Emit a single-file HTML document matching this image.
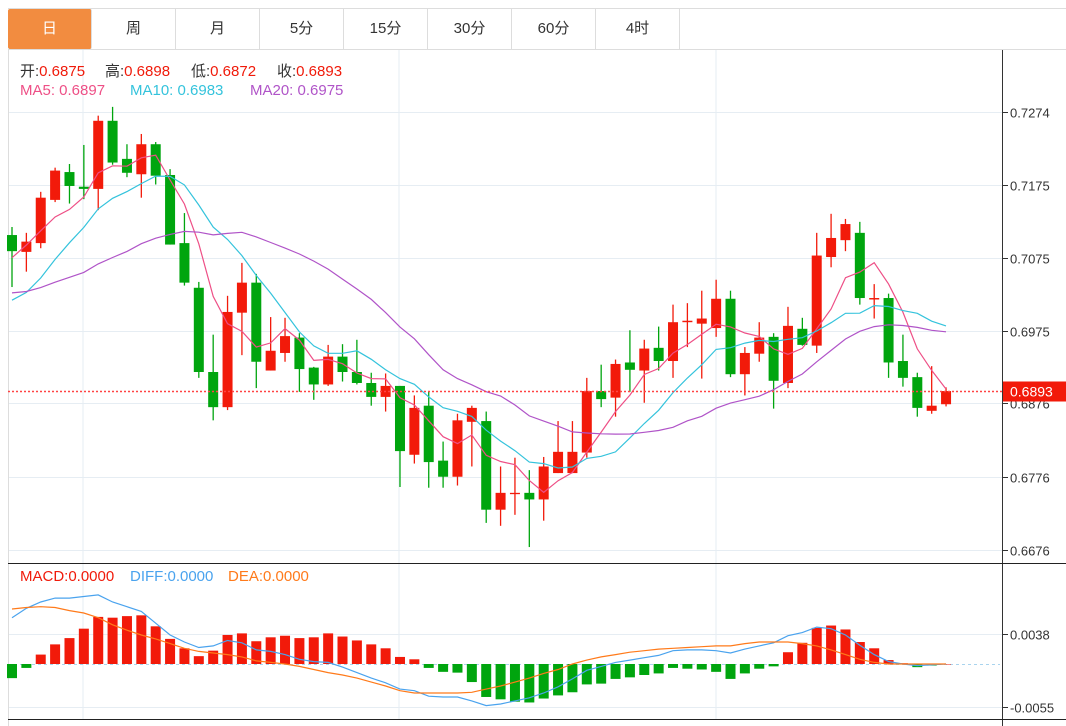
<!DOCTYPE html>
<html><head><meta charset="utf-8"><style>
html,body{margin:0;padding:0;background:#fff;width:1066px;height:726px;overflow:hidden;font-family:"Liberation Sans","Noto Sans CJK SC",sans-serif;}
.tabs{position:absolute;left:8px;top:8px;height:40px;width:1058px;border-top:1px solid #ddd;border-bottom:1px solid #ddd;}
.tab{position:absolute;top:0;height:40px;width:83px;border-right:1px solid #ddd;text-align:center;line-height:40px;font-size:15px;color:#333;}
.tab.active{background:#f28c40;color:#fff;border-radius:2px;}
.lg{position:absolute;font-size:15px;white-space:nowrap;}
#chart{position:absolute;left:0;top:0;}
</style></head><body>
<div class="tabs">
<div class="tab active" style="left:0">日</div>
<div class="tab" style="left:84px">周</div>
<div class="tab" style="left:168px">月</div>
<div class="tab" style="left:252px">5分</div>
<div class="tab" style="left:336px">15分</div>
<div class="tab" style="left:420px">30分</div>
<div class="tab" style="left:504px">60分</div>
<div class="tab" style="left:588px">4时</div>
</div>
<svg id="chart" width="1066" height="726"></svg>
<div>
<div class="lg" style="left:20px;top:60px"><span style="color:#333">开:</span><span style="color:#f01a0a">0.6875</span></div>
<div class="lg" style="left:105px;top:60px"><span style="color:#333">高:</span><span style="color:#f01a0a">0.6898</span></div>
<div class="lg" style="left:191px;top:60px"><span style="color:#333">低:</span><span style="color:#f01a0a">0.6872</span></div>
<div class="lg" style="left:277px;top:60px"><span style="color:#333">收:</span><span style="color:#f01a0a">0.6893</span></div>
</div>
<div>
<div class="lg" style="left:20px;top:82px;color:#ee4f86">MA5: 0.6897</div>
<div class="lg" style="left:130px;top:82px;color:#34c3dc">MA10: 0.6983</div>
<div class="lg" style="left:250px;top:82px;color:#b054c8">MA20: 0.6975</div>
</div>
<div>
<div class="lg" style="left:20px;top:568px;color:#f01a0a">MACD:0.0000</div>
<div class="lg" style="left:130px;top:568px;color:#4aa3ee">DIFF:0.0000</div>
<div class="lg" style="left:228px;top:568px;color:#ff7a1a">DEA:0.0000</div>
</div>
<script>
const priorCloses=[0.7060,0.7050,0.7045,0.7040,0.7035,0.7030,0.7030,0.7025,0.7020,0.7035,0.6990,0.6960,0.6940,0.6945,0.6960,0.7010,0.7060,0.7100,0.7121];
const opens=[0.7106,0.7083,0.7095,0.7154,0.7192,0.7172,0.7169,0.7262,0.7210,0.7189,0.7230,0.7188,0.7095,0.7034,0.6919,0.6871,0.7000,0.7041,0.6921,0.6945,0.6966,0.6925,0.6902,0.6940,0.6919,0.6904,0.6885,0.6900,0.6806,0.6873,0.6798,0.6776,0.6851,0.6852,0.6731,0.6753,0.6754,0.6745,0.6781,0.6781,0.6809,0.6893,0.6884,0.6932,0.6921,0.6952,0.6934,0.6987,0.6985,0.6979,0.7019,0.6916,0.6944,0.6967,0.6904,0.6978,0.6955,0.7076,0.7099,0.7109,0.7018,0.7020,0.6934,0.6912,0.6866,0.6875];
const closes=[0.7084,0.7097,0.7157,0.7194,0.7173,0.7169,0.7262,0.7205,0.7191,0.7230,0.7187,0.7093,0.7041,0.6919,0.6871,0.7001,0.7041,0.6933,0.6948,0.6968,0.6923,0.6902,0.6940,0.6919,0.6904,0.6885,0.6900,0.6811,0.6870,0.6796,0.6776,0.6853,0.6870,0.6731,0.6754,0.6754,0.6745,0.6790,0.6810,0.6810,0.6893,0.6882,0.6930,0.6922,0.6951,0.6934,0.6987,0.6989,0.6992,0.7019,0.6916,0.6945,0.6966,0.6907,0.6982,0.6956,0.7078,0.7102,0.7121,0.7020,0.7020,0.6932,0.6911,0.6870,0.6873,0.6893];
const highs=[0.7117,0.7109,0.7165,0.7198,0.7203,0.7229,0.7269,0.7281,0.7230,0.7244,0.7233,0.7196,0.7136,0.7042,0.6970,0.7023,0.7068,0.7053,0.6994,0.6993,0.6972,0.6926,0.6956,0.6957,0.6963,0.6918,0.6917,0.6900,0.6887,0.6892,0.6824,0.6862,0.6873,0.6865,0.6790,0.6802,0.6785,0.6803,0.6852,0.6852,0.6911,0.6929,0.6936,0.6976,0.6963,0.6981,0.7011,0.7013,0.7030,0.7045,0.7030,0.6953,0.6987,0.6972,0.7008,0.6993,0.7109,0.7135,0.7128,0.7124,0.7039,0.7026,0.6970,0.6918,0.6927,0.6898];
const lows=[0.7035,0.7056,0.7088,0.7151,0.7149,0.7155,0.7140,0.7202,0.7185,0.7157,0.7175,0.7093,0.7037,0.6911,0.6853,0.6867,0.6942,0.6897,0.6921,0.6933,0.6892,0.6881,0.6900,0.6906,0.6902,0.6873,0.6865,0.6762,0.6794,0.6761,0.6761,0.6764,0.6790,0.6713,0.6709,0.6724,0.6680,0.6716,0.6781,0.6781,0.6802,0.6871,0.6858,0.6892,0.6877,0.6921,0.6911,0.6953,0.6910,0.6967,0.6912,0.6887,0.6933,0.6869,0.6897,0.6955,0.6945,0.7062,0.7084,0.7011,0.6992,0.6911,0.6899,0.6858,0.6862,0.6872];
const macdBars=[-0.0018,-0.0005,0.0012,0.0025,0.0033,0.0045,0.0060,0.0059,0.0061,0.0062,0.0048,0.0032,0.0020,0.0010,0.0017,0.0037,0.0039,0.0029,0.0034,0.0036,0.0033,0.0034,0.0039,0.0035,0.0030,0.0025,0.0020,0.0009,0.0006,-0.0005,-0.0010,-0.0011,-0.0023,-0.0042,-0.0045,-0.0048,-0.0049,-0.0044,-0.0040,-0.0036,-0.0026,-0.0025,-0.0019,-0.0017,-0.0014,-0.0012,-0.0005,-0.0006,-0.0007,-0.0010,-0.0019,-0.0012,-0.0006,-0.0003,0.0015,0.0027,0.0046,0.0049,0.0044,0.0028,0.0020,0.0005,0.0001,-0.0004,-0.0002,0.0000];
const diffs=[0.0059,0.0071,0.0079,0.0084,0.0084,0.0086,0.0088,0.0079,0.0073,0.0067,0.0052,0.0037,0.0028,0.0021,0.0023,0.0030,0.0027,0.0018,0.0016,0.0012,0.0006,0.0003,0.0002,-0.0004,-0.0011,-0.0018,-0.0024,-0.0032,-0.0034,-0.0041,-0.0042,-0.0042,-0.0047,-0.0053,-0.0051,-0.0047,-0.0043,-0.0037,-0.0029,-0.0019,-0.0008,-0.0003,0.0002,0.0005,0.0008,0.0011,0.0017,0.0018,0.0018,0.0017,0.0014,0.0019,0.0023,0.0027,0.0036,0.0040,0.0047,0.0045,0.0037,0.0024,0.0012,0.0003,0.0000,-0.0002,-0.0001,0.0000];
const deas=[0.0070,0.0072,0.0073,0.0072,0.0068,0.0065,0.0059,0.0050,0.0043,0.0037,0.0032,0.0026,0.0020,0.0016,0.0014,0.0012,0.0009,0.0004,0.0002,0.0000,-0.0003,-0.0007,-0.0011,-0.0014,-0.0018,-0.0023,-0.0028,-0.0034,-0.0037,-0.0037,-0.0037,-0.0037,-0.0036,-0.0032,-0.0028,-0.0023,-0.0018,-0.0012,-0.0007,0.0000,0.0005,0.0009,0.0012,0.0015,0.0017,0.0019,0.0020,0.0021,0.0022,0.0023,0.0023,0.0026,0.0028,0.0028,0.0028,0.0026,0.0023,0.0018,0.0012,0.0006,0.0002,0.0000,0.0000,0.0000,0.0000,0.0000];
const priceTicks=[0.7274,0.7175,0.7075,0.6975,0.6876,0.6776,0.6676];
const macdTicks=[0.0038,-0.0055];
const lastPrice=0.6893;

const NS='http://www.w3.org/2000/svg';
const svg=document.getElementById('chart');
const RED='#f21a0a',GREEN='#00a50e';
function xOf(i){return 12+i*14.37;}
function yP(p){return 112+(0.7274-p)*7324;}
function yM(v){return 664-v*7850;}
function mk(tag,attrs,parent){const e=document.createElementNS(NS,tag);for(const k in attrs)e.setAttribute(k,attrs[k]);(parent||svg).appendChild(e);return e;}

const grid=mk('g',{});


[83,399,716].forEach(x=>mk('line',{x1:x,y1:50,x2:x,y2:719,stroke:'#e6edf3','stroke-width':1},grid));
priceTicks.forEach(t=>{const y=Math.round(yP(t))+0.5;mk('line',{x1:8,y1:y,x2:1002,y2:y,stroke:'#e6edf3'},grid);
 mk('line',{x1:1003,y1:y,x2:1008,y2:y,stroke:'#333'},grid);
 const tx=mk('text',{x:1010,y:y+5,'font-size':13,fill:'#333','font-family':'Liberation Sans, sans-serif'},grid);tx.textContent=t.toFixed(4);
 
 });
macdTicks.forEach(t=>{const y=Math.round(yM(t))+0.5;mk('line',{x1:8,y1:y,x2:1002,y2:y,stroke:'#e6edf3'},grid);
 mk('line',{x1:1003,y1:y,x2:1008,y2:y,stroke:'#333'},grid);
 const tx=mk('text',{x:1010,y:y+5,'font-size':13,fill:'#333','font-family':'Liberation Sans, sans-serif'},grid);tx.textContent=t.toFixed(4);
 
 });
mk('line',{x1:8.5,y1:48,x2:8.5,y2:726,stroke:'#ddd'},grid);
mk('line',{x1:1002.5,y1:50,x2:1002.5,y2:726,stroke:'#333'},grid);
mk('line',{x1:8,y1:563.5,x2:1066,y2:563.5,stroke:'#222'},grid);
mk('line',{x1:8,y1:719.5,x2:1066,y2:719.5,stroke:'#222'},grid);
mk('line',{x1:8,y1:664.5,x2:1000,y2:664.5,stroke:'#a9d4ee','stroke-dasharray':'3,3'},grid);

const cg=mk('g',{});


for(let i=0;i<closes.length;i++){
 const up=closes[i]>=opens[i];const col=up?RED:GREEN;const x=xOf(i);
 const g=mk('g',{},cg);
 
 
 mk('line',{x1:x,y1:yP(highs[i]),x2:x,y2:yP(lows[i]),stroke:col,'stroke-width':1.3},g);
 const t=yP(Math.max(opens[i],closes[i])),b=yP(Math.min(opens[i],closes[i]));
 mk('rect',{x:x-5,y:t,width:10,height:Math.max(1.3,b-t),fill:col},g);
}
const all=priorCloses.concat(closes);
function ma(n){const r=[];for(let i=0;i<closes.length;i++){const j=i+priorCloses.length;let s=0;for(let k=j-n+1;k<=j;k++)s+=all[k];r.push(s/n);}return r;}
[[5,'#ee4f86','ma5-line'],[10,'#34c3dc','ma10-line'],[20,'#b054c8','ma20-line']].forEach(([n,c,name])=>{
 const v=ma(n);const pl=mk('polyline',{points:v.map((p,i)=>xOf(i).toFixed(1)+','+yP(p).toFixed(1)).join(' '),fill:'none',stroke:c,'stroke-width':1.2});
 
 
});
const ly=Math.round(yP(lastPrice))+0.5;
const pline=mk('line',{x1:8,y1:ly,x2:1002,y2:ly,stroke:'#f44','stroke-width':1.5,'stroke-dasharray':'2,2'});


const lb=mk('rect',{x:1003,y:ly-10,width:63,height:20,fill:'#f21a0a'});


const lt=mk('text',{x:1010,y:ly+5,'font-size':14,fill:'#fff','font-family':'Liberation Sans, sans-serif'});lt.textContent=lastPrice.toFixed(4);


const mg=mk('g',{});


for(let i=0;i<macdBars.length;i++){const v=macdBars[i];const y0=yM(0),y1=yM(v);
 const r=mk('rect',{x:xOf(i)-5,y:Math.min(y0,y1),width:10,height:Math.max(0.5,Math.abs(y1-y0)),fill:v>=0?RED:GREEN},mg);
 
 }
[[diffs,'#4aa3ee','diff-line'],[deas,'#ff7a1a','dea-line']].forEach(([arr,c,name])=>{
 const pl=mk('polyline',{points:arr.map((v,i)=>xOf(i).toFixed(1)+','+yM(v).toFixed(1)).join(' '),fill:'none',stroke:c,'stroke-width':1.2});
 
 
});
</script>
</body></html>
